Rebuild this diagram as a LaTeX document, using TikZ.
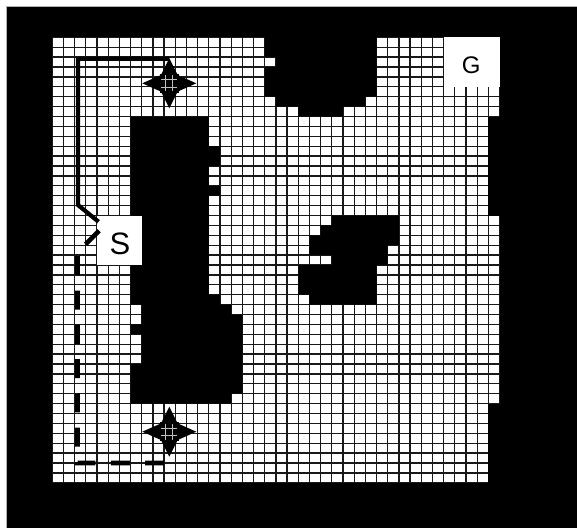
\documentclass[tikz,border=0pt]{standalone}
\usepackage{fontspec}
\newfontfamily\lblfont{Liberation Sans}
\begin{document}
\begin{tikzpicture}[x=1pt,y=-1pt,
  gridl/.style={draw=black!90,line width=1.25pt},
  obst/.style={fill=black},
  lblbox/.style={fill=white,draw=none,inner sep=0pt,outer sep=0pt},
  lbltext/.style={inner sep=0pt,outer sep=0pt,font=\lblfont},
  solidpath/.style={draw=black,line width=4.2pt},
  dashpath/.style={draw=black,line width=4.6pt,dash pattern=on 19pt off 15.3pt},
  moveicon/.pic={
    \fill[black] (0,-25) -- (8,-9) -- (-8,-9) -- cycle;
    \fill[black] (0,25) -- (8,9) -- (-8,9) -- cycle;
    \fill[black] (-27,0) -- (-9,-8) -- (-9,8) -- cycle;
    \fill[black] (27,0) -- (9,-8) -- (9,8) -- cycle;
    \fill[black] (-9.5,-9.5) rectangle (9.5,9.5);
    \draw[white!75!black,line width=1pt] (-8,-3.5) -- (8,-3.5) (-8,4) -- (8,4)
      (-4,-8) -- (-4,8) (3.5,-8) -- (3.5,8);
  }]
\useasboundingbox (0,0) rectangle (577,528);
\fill[white] (0,0) rectangle (577,528);
% outer frame
\fill[black] (6,6) rectangle (577,528);
\draw[gray!60,line width=1pt] (6.5,528) -- (6.5,6.5) -- (577,6.5);

% grid world
\begin{scope}[shift={(52.3,37.3)},x=11.18pt,y=-9.9pt]
  \fill[white] (0,0) rectangle (40,45);
  \foreach \i in {0,...,40} \draw[gridl] (\i,0) -- (\i,45);
  \foreach \j in {0,...,45} \draw[gridl] (0,\j) -- (40,\j);
  % top obstacle
  \fill[obst] (19,-0.2) -- (29,-0.2) -- (29,6) -- (28,6) -- (28,7) -- (26,7) -- (26,8)
    -- (22,8) -- (22,7) -- (20,7) -- (20,6) -- (19,6) -- (19,3) -- (20,3) -- (20,2)
    -- (19,2) -- cycle;
  % large left obstacle
  \fill[obst] (7,8) -- (14,8) -- (14,11) -- (15,11) -- (15,13) -- (14,13) -- (14,15)
    -- (15,15) -- (15,16) -- (14,16) -- (14,26) -- (15,26) -- (15,27) -- (16,27)
    -- (16,28) -- (17,28) -- (17,36) -- (16,36) -- (16,37) -- (7,37) -- (7,33)
    -- (8,33) -- (8,30) -- (7,30) -- (7,29) -- (8,29) -- (8,27) -- (7,27) -- cycle;
  % middle obstacle
  \fill[obst] (25,18) -- (31,18) -- (31,21) -- (30,21) -- (30,23) -- (29,23) -- (29,27)
    -- (23,27) -- (23,26) -- (22,26) -- (22,23) -- (25,23) -- (25,22) -- (23,22)
    -- (23,20) -- (24,20) -- (24,19) -- (25,19) -- cycle;
  % right wall pieces
  \fill[obst] (39,8) rectangle (40.6,18);
  \fill[obst] (39,37) rectangle (40.6,45.6);
  % label boxes
  \node[lblbox,minimum width=44.7pt,minimum height=49.5pt] (Sbox) at (6,20.5) {};
  \node[lblbox,minimum width=55.9pt,minimum height=49.5pt] (Gbox) at (37.5,2.5) {};
\end{scope}

\node[lbltext,font=\lblfont\fontsize{31}{31}\selectfont] (S) at (120,244.3) {S};
\node[lbltext,font=\lblfont\fontsize{24}{24}\selectfont] (G) at (471.3,65.3) {G};

% move icons
\coordinate (A1) at (169.3,83.3);
\coordinate (A2) at (169.3,431.7);
\pic at (A1) {moveicon};
\pic at (A2) {moveicon};

% paths
\coordinate (w1) at (78,205);
\coordinate (w2) at (77.5,252.5);
\coordinate (w3) at (77.5,463);
\coordinate (e2) at (165.5,463);
\draw[solidpath] ([shift={(1.5,-18.5)}]Sbox.west) -- (w1) |- ([shift={(0,-24.5)}]A1);
\draw[dashpath] ([shift={(2,-9.5)}]Sbox.west) -- (w2) -- (w3) -- (e2);
\end{tikzpicture}
\end{document}
